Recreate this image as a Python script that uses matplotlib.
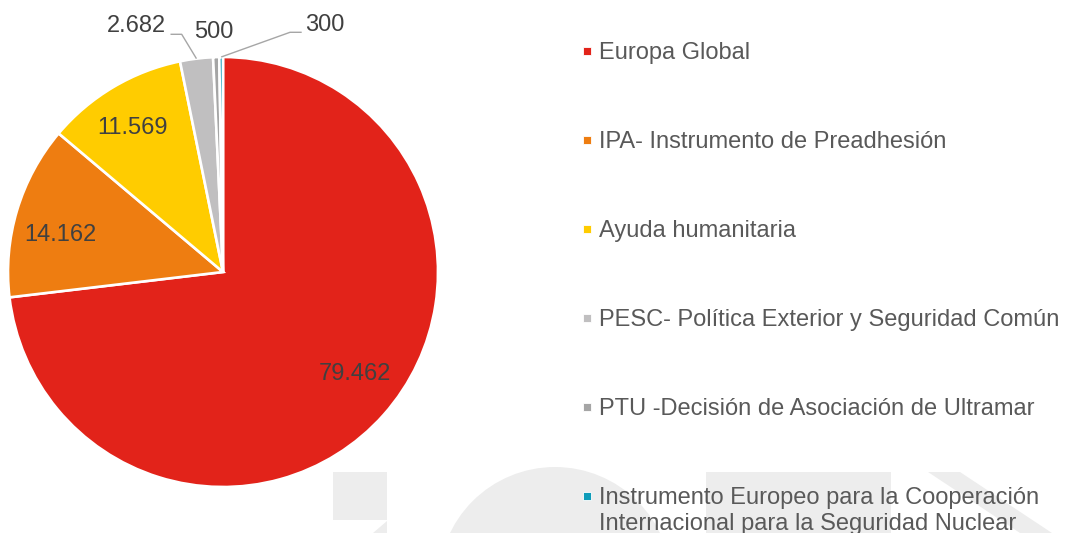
import numpy as np
import matplotlib
matplotlib.use("Agg")
import matplotlib.pyplot as plt
from matplotlib.patches import Rectangle, Polygon, Circle

# ---------------- data ----------------
categories = [
    "Europa Global",
    "IPA- Instrumento de Preadhesión",
    "Ayuda humanitaria",
    "PESC- Política Exterior y Seguridad Común",
    "PTU -Decisión de Asociación de Ultramar",
    "Instrumento Europeo para la Cooperación\nInternacional para la Seguridad Nuclear",
]
values = [79462, 14162, 11569, 2682, 500, 300]
value_labels = ["79.462", "14.162", "11.569", "2.682", "500", "300"]
colors = ["#E2231A", "#EE7D11", "#FFCC00", "#C0BFC0", "#A5A5A5", "#0E9CB9"]

# ---------------- layout ----------------
W, H = 1066, 533
FONT = "Liberation Sans"
FS = 17
LABEL_COLOR = "#404040"
LEGEND_COLOR = "#595959"
WM = "#EDEDED"

def Y(py):
    return H - py

fig = plt.figure(figsize=(W / 100, H / 100), dpi=100)
ax = fig.add_axes([0, 0, 1, 1])

# faint watermark logo behind everything
ax.add_patch(Rectangle((333, Y(520)), 54, 48, color=WM, zorder=0, lw=0))
ax.add_patch(Polygon([(387, Y(521)), (387, Y(533)), (373, Y(533))], color=WM, zorder=0, lw=0))
ax.add_patch(Circle((555, Y(583.5)), 116.5, color=WM, zorder=0, lw=0))
ax.add_patch(Rectangle((706, Y(533)), 185, 61, color=WM, zorder=0, lw=0))
ax.add_patch(Polygon([(928, Y(472)), (960, Y(472)), (1052, Y(533)), (1020, Y(533))],
                     color=WM, zorder=0, lw=0))

cx, cy, R = 223, Y(272), 215
wedges, _ = ax.pie(values, colors=colors, startangle=90, counterclock=False,
                   center=(cx, cy), radius=R,
                   wedgeprops=dict(edgecolor="white", linewidth=1.9))
for w in wedges:
    w.set_zorder(2)

def mid_angle(w):
    return np.deg2rad((w.theta1 + w.theta2) / 2.0)

# inside labels
inner_r = [0.775, 0.775, 0.79]
inner_da = [3.8, 3.8, 1.6]
for i in range(3):
    a = mid_angle(wedges[i]) + np.deg2rad(inner_da[i])
    ax.text(cx + inner_r[i] * R * np.cos(a), cy + inner_r[i] * R * np.sin(a),
            value_labels[i], ha="center", va="center", fontsize=FS,
            family=FONT, color=LABEL_COLOR, zorder=5)

# outside labels with leader lines
outer_text = {3: (136, 26.5), 4: (213.5, 31.5), 5: (324.5, 25)}
outer_elbow = {3: [(170.5, 34.3), (181.7, 34.3)], 5: [(301.7, 32.3), (290, 32.3)]}
for i, (tx, ty) in outer_text.items():
    ax.text(tx, Y(ty), value_labels[i], ha="center", va="center", fontsize=FS,
            family=FONT, color=LABEL_COLOR, zorder=5)
    if i in outer_elbow:
        a = mid_angle(wedges[i])
        ex, ey = cx + R * np.cos(a), cy + R * np.sin(a)
        pts = [(x, Y(y)) for x, y in outer_elbow[i]] + [(ex, ey)]
        ax.plot([p[0] for p in pts], [p[1] for p in pts], color="#A6A6A6",
                lw=1.0, zorder=4, solid_capstyle="butt")

ax.set_xlim(0, W)
ax.set_ylim(0, H)
ax.set_aspect("equal")
ax.axis("off")

# legend
leg_x_marker = 583
leg_x_text = 599
base0, step = 59, 89
for i, (lab, col) in enumerate(zip(categories, colors)):
    base = base0 + step * i
    ax.add_patch(Rectangle((leg_x_marker, Y(base - 4)), 8, 8, facecolor=col,
                           edgecolor="white", lw=0.6, zorder=5))
    for j, line in enumerate(lab.split("\n")):
        ax.text(leg_x_text, Y(base + 26 * j), line, ha="left", va="baseline",
                fontsize=FS, family=FONT, color=LEGEND_COLOR, zorder=5)

fig.savefig("out.png", dpi=100)
